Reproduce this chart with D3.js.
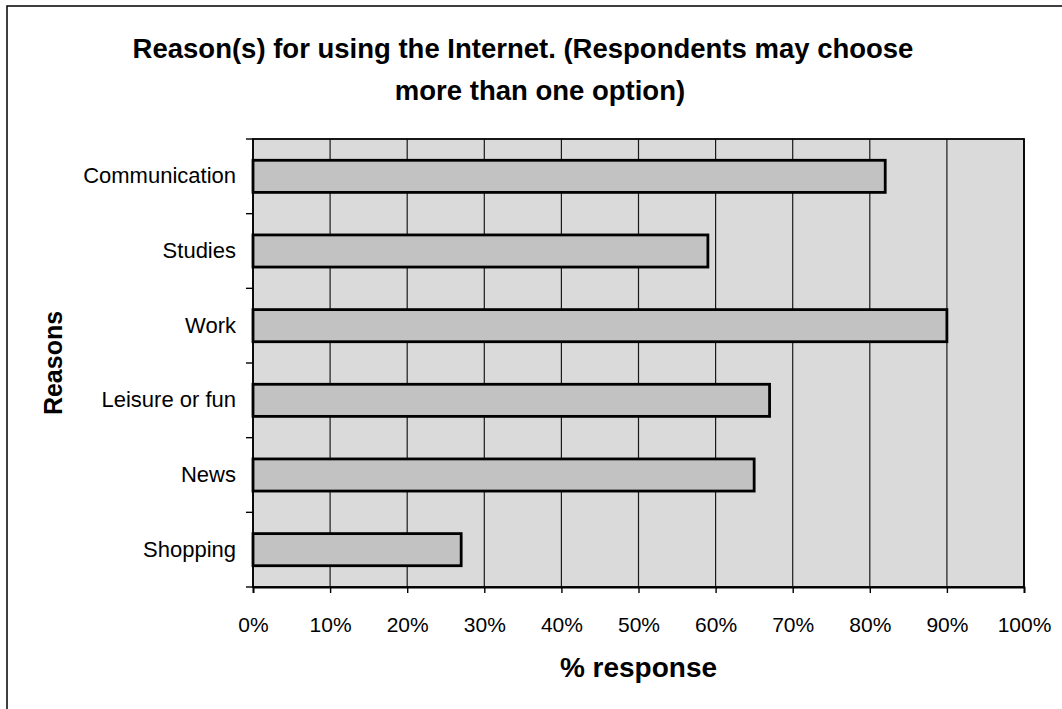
<!DOCTYPE html>
<html>
<head>
<meta charset="utf-8">
<script src="https://cdn.jsdelivr.net/npm/d3@7"></script>
<style>
  html, body { margin: 0; padding: 0; background: #ffffff; }
  svg { display: block; }
  text { font-family: "Liberation Sans", Arial, sans-serif; fill: #000; }
</style>
</head>
<body>
<svg id="chart" width="1062" height="709"></svg>
<script>
// Reasons for using the Internet, % of respondents (multiple answers allowed)
const categories = ["Communication", "Studies", "Work", "Leisure or fun", "News", "Shopping"];
const responses = [82, 59, 90, 67, 65, 27];
const xTickValues = [0, 10, 20, 30, 40, 50, 60, 70, 80, 90, 100];
const titleLines = ["Reason(s) for using the Internet. (Respondents may choose", "more than one option)"];

const svg = d3.select("#chart");
const plot = { left: 253, right: 1024, top: 139, bottom: 587 };
const labelFont = "'Liberation Sans', Arial, sans-serif";

const x = d3.scaleLinear().domain([0, 100]).range([plot.left, plot.right]);
const y = d3.scaleBand().domain(categories)
  .range([plot.top, plot.bottom])
  .paddingInner(0.57).paddingOuter(0.285);

// chart frame
svg.append("rect")
  .attr("x", 7).attr("y", 6).attr("width", 1100).attr("height", 760)
  .attr("fill", "#ffffff").attr("stroke", "#000").attr("stroke-width", 1.5);

// title
svg.append("g").selectAll("text").data(titleLines).join("text")
  .attr("x", (d, i) => i === 0 ? 523 : 540)
  .attr("y", (d, i) => 58 + i * 42)
  .attr("text-anchor", "middle")
  .attr("font-size", 27.5).attr("font-weight", "bold")
  .text(d => d);

// plot area
svg.append("rect")
  .attr("x", plot.left).attr("y", plot.top)
  .attr("width", plot.right - plot.left).attr("height", plot.bottom - plot.top)
  .attr("fill", "#dadada");

// vertical gridlines
svg.append("g").selectAll("line").data(xTickValues).join("line")
  .attr("x1", d => x(d)).attr("x2", d => x(d))
  .attr("y1", plot.top).attr("y2", plot.bottom)
  .attr("stroke", "#1a1a1a").attr("stroke-width", 1.2);

// bars
svg.append("g").selectAll("rect").data(categories).join("rect")
  .attr("x", x(0))
  .attr("y", d => y(d))
  .attr("width", (d, i) => x(responses[i]) - x(0))
  .attr("height", y.bandwidth())
  .attr("fill", "#c2c2c2")
  .attr("stroke", "#000").attr("stroke-width", 2.8);

// plot border
svg.append("rect")
  .attr("x", plot.left).attr("y", plot.top)
  .attr("width", plot.right - plot.left).attr("height", plot.bottom - plot.top)
  .attr("fill", "none").attr("stroke", "#000").attr("stroke-width", 1.8);

// x axis
const xAxis = d3.axisBottom(x)
  .tickValues(xTickValues)
  .tickFormat(d => d + "%")
  .tickSize(6).tickPadding(24);
const gx = svg.append("g").attr("transform", `translate(0,${plot.bottom})`).call(xAxis);
gx.select(".domain").attr("stroke", "#000").attr("stroke-width", 1.8);
gx.selectAll(".tick line").attr("stroke", "#000").attr("stroke-width", 1.4);
gx.selectAll(".tick text")
  .attr("font-family", labelFont)
  .attr("font-size", 21).attr("fill", "#000");

// y axis: labels at band centres, tick marks between categories
const yAxis = d3.axisLeft(y).tickSize(0).tickPadding(17);
const gy = svg.append("g").attr("transform", `translate(${plot.left},0)`).call(yAxis);
gy.select(".domain").remove();
gy.selectAll(".tick text")
  .attr("font-family", labelFont)
  .attr("font-size", 22).attr("fill", "#000");

const step = y.step();
const boundaries = d3.range(categories.length + 1).map(i => plot.top + i * step);
svg.append("g").selectAll("line").data(boundaries).join("line")
  .attr("x1", plot.left - 7).attr("x2", plot.left)
  .attr("y1", d => d).attr("y2", d => d)
  .attr("stroke", "#000").attr("stroke-width", 1.4);

// axis titles
svg.append("text")
  .attr("x", (plot.left + plot.right) / 2).attr("y", 677)
  .attr("text-anchor", "middle")
  .attr("font-size", 28).attr("font-weight", "bold")
  .text("% response");

svg.append("text")
  .attr("transform", `translate(62,${(plot.top + plot.bottom) / 2}) rotate(-90)`)
  .attr("text-anchor", "middle")
  .attr("font-size", 25).attr("font-weight", "bold")
  .text("Reasons");
</script>
</body>
</html>
